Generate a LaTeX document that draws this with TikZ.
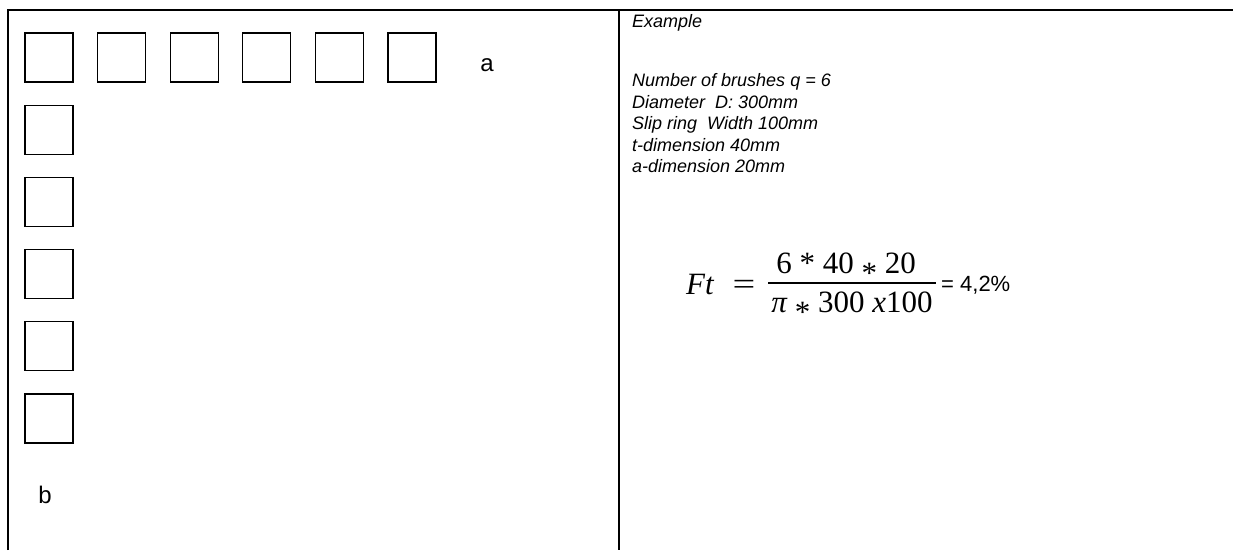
\documentclass[tikz,border=0pt]{standalone}
\usepackage{fontspec}
\setmainfont{Liberation Sans}
\newfontfamily\timesfont{Liberation Serif}
\newcommand{\midast}{\raisebox{-0.33em}{*}}
\begin{document}
\begin{tikzpicture}[x=1pt, y=-1pt,
    frame/.style={line width=2.4pt},
    brush/.style={rectangle, draw, line width=1.3pt,
                  minimum width=48pt, minimum height=49pt, inner sep=0pt},
    dimlbl/.style={font=\fontsize{24}{28}\selectfont, inner sep=0pt},
    spec/.style={font=\fontsize{18}{21.6}\selectfont\itshape, inner sep=0pt},
    frm/.style={font=\timesfont\fontsize{31}{33}\selectfont, inner sep=0pt},
  ]
  \useasboundingbox (0,0) rectangle (1233,550);

  % frame
  \draw[frame] (8,550) -- (8,10) -- (1233,10);
  \draw[frame] (619,10) -- (619,550);

  % brushes: row a, column b
  \foreach \i in {0,...,5}
    \node[brush] (a\i) at (49+72.6*\i, 57.5) {};
  \foreach \j in {1,...,5}
    \node[brush] (b\j) at (49, 57.5+72.2*\j) {};
  \node[dimlbl] (alabel) at (487,65) {a};
  \node[dimlbl] (blabel) at (45,495) {b};

  % example data
  \node[spec, anchor=base west] (title) at (632,27) {Example};
  \foreach \txt [count=\k from 0] in {Number of brushes q = 6,
      Diameter\ \ D: 300mm, Slip ring\ \ Width 100mm,
      t-dimension 40mm, a-dimension 20mm}
    \node[spec, anchor=base west] (spec\k) at (632, 86.5+21.6*\k) {\txt};

  % formula
  \node[frm, anchor=base] (ft) at (700,294) {\itshape Ft};
  \node[frm, anchor=base, xscale=1.3] (eqs) at (744,294) {=};
  \coordinate (barl) at (768,283);
  \coordinate (barr) at (936,283);
  \draw[line width=1.2pt] (barl) -- (barr);
  \node[frm, anchor=base] (num) at (846,273) {6 * 40 \midast\ 20};
  \node[frm, anchor=base] (den) at (852,312) {{\itshape π} \midast\ 300 {\itshape x}100};
  \node[font=\fontsize{22}{24}\selectfont, inner sep=0pt, anchor=base west]
    (res) at (941,291) {= 4,2\%};
\end{tikzpicture}
\end{document}
